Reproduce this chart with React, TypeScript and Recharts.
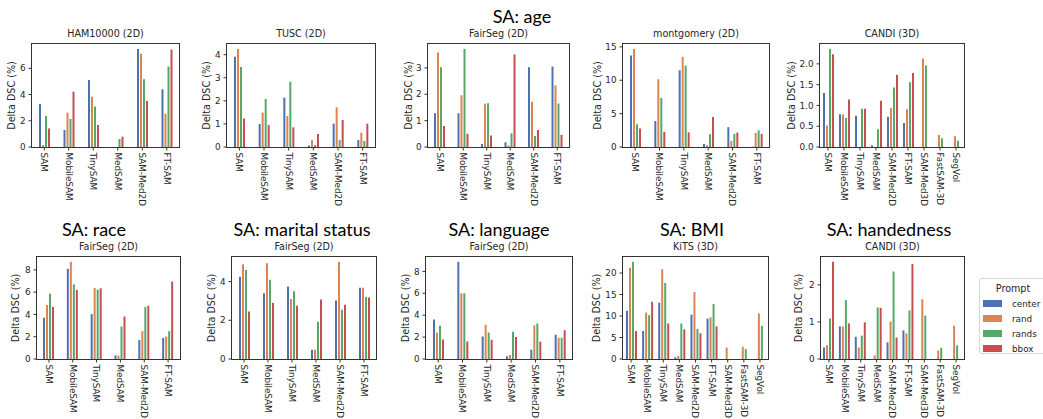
import React from "react";
import { BarChart, Bar, XAxis, YAxis, Legend } from "recharts";

const prompts = ["center", "rand", "rands", "bbox"];
const colors = ["#4C72B0", "#DD8452", "#55A868", "#C44E52"];

const models2d = ["SAM", "MobileSAM", "TinySAM", "MedSAM", "SAM-Med2D", "FT-SAM"];
const models3d = [...models2d, "SAM-Med3D", "FastSAM-3D", "SegVol"];

// SA: age
const hamCenter = [3.28, 1.3, 5.11, 0, 7.48, 4.4];
const hamRand = [0.15, 2.62, 3.84, 0, 7.12, 2.54];
const hamRands = [2.37, 2.14, 3.08, 0.61, 5.17, 6.13];
const hamBbox = [1.42, 4.22, 1.68, 0.79, 3.51, 7.43];

const tuscCenter = [3.91, 1.0, 2.14, 0.06, 1.01, 0.3];
const tuscRand = [4.25, 1.49, 1.34, 0.3, 1.72, 0.62];
const tuscRands = [3.47, 2.08, 2.83, 0.09, 0.3, 0.26];
const tuscBbox = [1.24, 0.95, 0.85, 0.56, 1.17, 1.01];

const fairAgeCenter = [1.28, 1.28, 0.11, 0.18, 3.02, 3.05];
const fairAgeRand = [3.58, 1.96, 1.64, 0.06, 1.72, 2.34];
const fairAgeRands = [3.02, 3.72, 1.66, 0.52, 0.42, 1.65];
const fairAgeBbox = [0.8, 0.5, 0.44, 3.51, 0.64, 0.46];

const montCenter = [13.7, 3.9, 11.5, 0.45, 2.97, 0.05];
const montRand = [14.7, 10.15, 13.5, 0.25, 0.9, 2.1];
const montRands = [3.4, 7.35, 12.2, 1.9, 1.96, 2.5];
const montBbox = [2.77, 2.26, 2.2, 4.5, 2.16, 1.96];

const candiAgeCenter = [1.3, 0.79, 0.75, 0.04, 0.73, 0.58, 0, 0, 0];
const candiAgeRand = [0.52, 0.78, 0, 0, 0.94, 0.91, 2.13, 0.29, 0.26];
const candiAgeRands = [2.36, 0.7, 0.92, 0.43, 1.43, 1.56, 1.96, 0.21, 0.15];
const candiAgeBbox = [2.23, 1.14, 0.92, 1.11, 1.74, 1.78, 0, 0, 0];

// SA: race / marital status / language (FairSeg)
const raceCenter = [3.7, 8.1, 4.03, 0.33, 1.71, 1.89];
const raceRand = [4.84, 8.72, 6.38, 0.3, 2.5, 2.01];
const raceRands = [5.86, 6.7, 6.22, 2.92, 4.66, 2.5];
const raceBbox = [4.66, 6.2, 6.35, 3.82, 4.78, 6.95];

const maritalCenter = [4.25, 3.4, 3.75, 0.48, 3.02, 3.68];
const maritalRand = [4.9, 4.95, 3.1, 0.48, 5.02, 3.68];
const maritalRands = [4.6, 4.1, 3.5, 1.93, 2.55, 3.2];
const maritalBbox = [2.45, 2.9, 2.75, 3.08, 2.8, 3.18];

const langCenter = [3.6, 8.87, 2.06, 0.24, 0.85, 2.22];
const langRand = [2.4, 6.0, 3.12, 0.37, 3.06, 1.94];
const langRands = [3.03, 6.0, 2.42, 2.48, 3.24, 1.94];
const langBbox = [1.78, 1.6, 1.75, 2.0, 1.58, 2.63];

// SA: BMI (KiTS)
const kitsCenter = [11.2, 6.5, 13.1, 0.4, 10.3, 9.4, 0, 0, 0];
const kitsRand = [21.2, 10.8, 20.9, 0.7, 15.6, 9.7, 2.65, 2.85, 10.6];
const kitsRands = [22.6, 10.2, 17.7, 8.25, 7.0, 12.8, 0, 2.3, 7.7];
const kitsBbox = [6.5, 13.3, 8.25, 6.9, 6.0, 7.6, 0, 0, 0];

// SA: handedness (CANDI)
const handCenter = [0.31, 0.88, 0.6, 0, 0.45, 0.77, 0, 0, 0];
const handRand = [0.37, 0.88, 0.31, 0.1, 1.01, 0.69, 1.61, 0.23, 0.9];
const handRands = [1.09, 1.59, 0.63, 1.39, 2.36, 1.31, 1.17, 0.3, 0.37];
const handBbox = [2.62, 0.96, 0.99, 1.38, 0.58, 2.56, 0, 0, 0];

const ticksHam = [0, 2, 4, 6];
const ticksTusc = [0, 1, 2, 3, 4];
const ticksFairAge = [0, 1, 2, 3];
const ticksMont = [0, 5, 10, 15];
const ticksCandiAge = [0, 0.5, 1, 1.5, 2];
const ticksRace = [0, 2, 4, 6, 8];
const ticksMarital = [0, 2, 4];
const ticksLang = [0, 2, 4, 6, 8];
const ticksKits = [0, 5, 10, 15, 20];
const ticksHand = [0, 1, 2];

const rows = (cats: string[], c: number[], r: number[], rs: number[], b: number[]) =>
  cats.map((m, i) => ({ model: m, center: c[i], rand: r[i], rands: rs[i], bbox: b[i] }));

const FONT = "'DejaVu Sans', sans-serif";
const TXT = "#262626";
const EDGE = "#333333";
const SMALL = 8.8;
const LARGE = 9.6;

function ModelTick(props: any) {
  const { x, y, payload } = props;
  return (
    <g transform={`translate(${x},${y})`}>
      <text transform="rotate(90)" x={0} y={0} dy="0.35em" textAnchor="start"
        fontSize={SMALL} fontFamily={FONT} fill={TXT}>
        {payload.value}
      </text>
    </g>
  );
}

function PromptLegend(props: any) {
  const items = [...(props.payload || [])].sort(
    (a: any, b: any) => prompts.indexOf(a.value) - prompts.indexOf(b.value)
  );
  return (
    <div style={{
      width: 68, height: 76, boxSizing: "border-box", border: "1px solid #d6d6d6",
      borderRadius: 3, background: "#fff", fontFamily: FONT, fontSize: SMALL, color: TXT,
    }}>
      <div style={{ textAlign: "center", height: 15, lineHeight: "15px", marginTop: 2, fontSize: LARGE }}>Prompt</div>
      {items.map((e: any) => (
        <div key={e.value} style={{ display: "flex", alignItems: "center", height: 15 }}>
          <span style={{ display: "inline-block", width: 19, height: 7, background: e.color, marginLeft: 3, marginRight: 10 }} />
          <span>{e.value}</span>
        </div>
      ))}
    </div>
  );
}

type P = {
  x: number; y: number; w: number; h: number; title: string; data: any[];
  ticks: number[]; labelDx: number; fmt?: (v: number) => string; legend?: boolean;
};

const YW = 40;
const TOP = 4;
const XH = 66;

function Panel({ p }: { p: P }) {
  return (
    <>
      <div style={{
        position: "absolute", left: p.x, top: p.y - 16, width: p.w, textAlign: "center",
        fontFamily: FONT, fontSize: LARGE, color: TXT, lineHeight: "12px",
      }}>{p.title}</div>
      <div style={{ position: "absolute", left: p.x - YW, top: p.y - TOP }}>
        <BarChart width={YW + p.w + 2} height={TOP + p.h + XH} data={p.data}
          margin={{ top: TOP, right: 2, left: 0, bottom: 0 }} barSize={2} barGap={1}>
          <XAxis dataKey="model" height={XH} interval={0} axisLine={false}
            tickSize={3.5} tickLine={{ stroke: EDGE }} tick={<ModelTick />} />
          <YAxis width={YW} type="number" domain={[0, (m: number) => m * 1.05]} ticks={p.ticks}
            axisLine={false} tickSize={3.5} tickMargin={3} tickLine={{ stroke: EDGE }}
            tickFormatter={p.fmt || ((v: number) => String(v))}
            tick={{ fontSize: SMALL, fill: TXT, fontFamily: FONT }}
            label={{
              value: "Delta DSC (%)", angle: -90, position: "insideLeft", offset: YW - p.labelDx,
              style: { textAnchor: "middle" }, fontSize: LARGE, fill: TXT, fontFamily: FONT,
            }} />
          {p.legend && (
            <Legend layout="vertical" align="center" verticalAlign="middle"
              content={<PromptLegend />}
              wrapperStyle={{ left: 979 - (p.x - YW), top: 278 - (p.y - TOP), width: 68 }} />
          )}
          {prompts.map((k, i) => (
            <Bar key={k} dataKey={k} fill={colors[i]} isAnimationActive={false} />
          ))}
        </BarChart>
      </div>
      <div style={{
        position: "absolute", left: p.x - 1, top: p.y - 1, width: p.w + 2, height: p.h + 2,
        boxSizing: "border-box", border: `1px solid ${EDGE}`, pointerEvents: "none",
      }} />
    </>
  );
}

const one = (v: number) => v.toFixed(1);

const panels: P[] = [
  { x: 32, y: 44, w: 147, h: 103, title: "HAM10000 (2D)", data: rows(models2d, hamCenter, hamRand, hamRands, hamBbox), ticks: ticksHam, labelDx: 20 },
  { x: 227, y: 44, w: 148, h: 103, title: "TUSC (2D)", data: rows(models2d, tuscCenter, tuscRand, tuscRands, tuscBbox), ticks: ticksTusc, labelDx: 20 },
  { x: 428, y: 44, w: 141, h: 103, title: "FairSeg (2D)", data: rows(models2d, fairAgeCenter, fairAgeRand, fairAgeRands, fairAgeBbox), ticks: ticksFairAge, labelDx: 19 },
  { x: 623, y: 44, w: 146, h: 103, title: "montgomery (2D)", data: rows(models2d, montCenter, montRand, montRands, montBbox), ticks: ticksMont, labelDx: 25 },
  { x: 820, y: 44, w: 144, h: 103, title: "CANDI (3D)", data: rows(models3d, candiAgeCenter, candiAgeRand, candiAgeRands, candiAgeBbox), ticks: ticksCandiAge, labelDx: 28, fmt: one },
  { x: 37, y: 257, w: 143, h: 102, title: "FairSeg (2D)", data: rows(models2d, raceCenter, raceRand, raceRands, raceBbox), ticks: ticksRace, labelDx: 21 },
  { x: 232, y: 257, w: 144, h: 102, title: "FairSeg (2D)", data: rows(models2d, maritalCenter, maritalRand, maritalRands, maritalBbox), ticks: ticksMarital, labelDx: 20 },
  { x: 426, y: 257, w: 146, h: 102, title: "FairSeg (2D)", data: rows(models2d, langCenter, langRand, langRands, langBbox), ticks: ticksLang, labelDx: 20 },
  { x: 623, y: 257, w: 145, h: 102, title: "KiTS (3D)", data: rows(models3d, kitsCenter, kitsRand, kitsRands, kitsBbox), ticks: ticksKits, labelDx: 26 },
  { x: 821, y: 257, w: 143, h: 102, title: "CANDI (3D)", data: rows(models3d, handCenter, handRand, handRands, handBbox), ticks: ticksHand, labelDx: 22, legend: true },
];

const bigTitles = [
  { text: "SA: age", cx: 522, cy: 16 },
  { text: "SA: race", cx: 94, cy: 229 },
  { text: "SA: marital status", cx: 302, cy: 229 },
  { text: "SA: language", cx: 499, cy: 229 },
  { text: "SA: BMI", cx: 692, cy: 229 },
  { text: "SA: handedness", cx: 889, cy: 229 },
];

export default function App() {
  return (
    <div style={{ position: "absolute", left: 0, top: 0, width: 1043, height: 419, overflow: "hidden", background: "#fff" }}>
      {bigTitles.map((t) => (
        <div key={t.text} style={{
          position: "absolute", left: t.cx - 100, top: t.cy - 11, width: 200, height: 22,
          textAlign: "center", lineHeight: "22px", fontFamily: "Lato, sans-serif", fontSize: 18, color: "#000",
        }}>{t.text}</div>
      ))}
      {panels.map((p, i) => <Panel key={i} p={p} />)}
    </div>
  );
}
